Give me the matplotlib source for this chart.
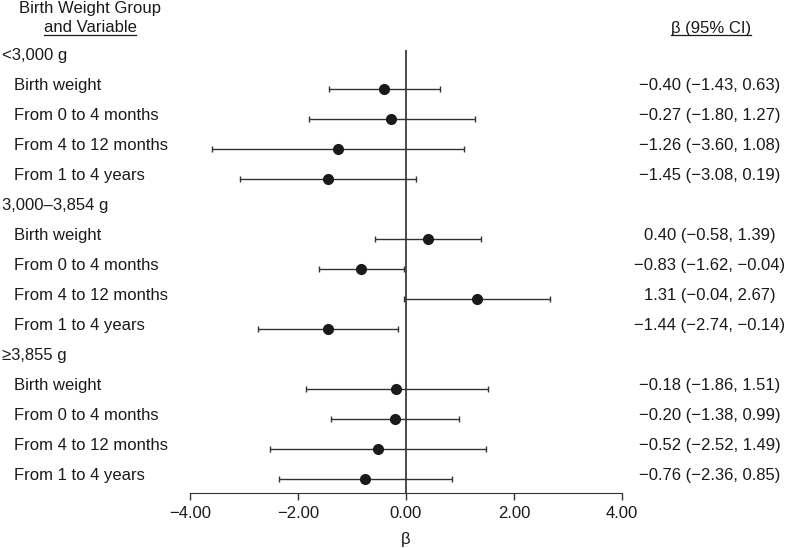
import numpy as np
import matplotlib.pyplot as plt
from matplotlib.transforms import blended_transform_factory
from matplotlib.lines import Line2D

plt.rcParams['font.family'] = ['Liberation Sans', 'DejaVu Sans']
plt.rcParams['axes.unicode_minus'] = True

# DATA
groups = ["<3,000 g", "3,000\u20133,854 g", "\u22653,855 g"]
variables = ["Birth weight", "From 0 to 4 months", "From 4 to 12 months", "From 1 to 4 years"]
beta = [[-0.40, -0.27, -1.26, -1.45],
        [0.40, -0.83, 1.31, -1.44],
        [-0.18, -0.20, -0.52, -0.76]]
ci_low = [[-1.43, -1.80, -3.60, -3.08],
          [-0.58, -1.62, -0.04, -2.74],
          [-1.86, -1.38, -2.52, -2.36]]
ci_high = [[0.63, 1.27, 1.08, 0.19],
           [1.39, -0.04, 2.67, -0.14],
           [1.51, 0.99, 1.49, 0.85]]
x_ticks = [-4, -2, 0, 2, 4]

# FIGURE
fig = plt.figure(figsize=(7.87, 5.48), dpi=100)
ax = fig.add_axes([190 / 787, 1 - 493 / 548, 432 / 787, 443 / 548])
W, H = 787, 548

fs = 12
ink = '#1a1a1a'

b = np.array(beta)
lo = np.array(ci_low)
hi = np.array(ci_high)

# ROWS: group header at 5*g, its four variables below it
rows = []
for g in range(len(groups)):
    for j in range(len(variables)):
        rows.append(g * 5 + 1 + j)
rows = np.array(rows)
bf = b.flatten()
ax.errorbar(bf, rows, xerr=[bf - lo.flatten(), hi.flatten() - bf], fmt='o',
            color=ink, ecolor='#333333', elinewidth=1.0, capsize=2.5,
            capthick=1.0, markersize=7, zorder=3)
ax.axvline(0, color=ink, lw=1.1, zorder=2)

ax.set_xlim(-4, 4)
ax.set_ylim(14.467, -0.3)
ax.set_xticks(x_ticks)
ax.set_xticklabels([f"{t:.2f}".replace('-', '\u2212') for t in x_ticks], fontsize=fs)
ax.tick_params(axis='x', direction='out', length=5, width=1, color='#333333',
               pad=4, labelcolor=ink)
ax.set_yticks([])
for s in ['left', 'right', 'top']:
    ax.spines[s].set_visible(False)
ax.spines['bottom'].set_color('#333333')
ax.set_xlabel('\u03b2', fontsize=fs, labelpad=8, color=ink)


# TEXT COLUMNS
tr = blended_transform_factory(fig.transFigure, ax.transData)
off = -0.12
for g in range(len(groups)):
    ax.text(2 / W, g * 5 + off, groups[g], transform=tr, fontsize=fs,
            ha='left', va='center', clip_on=False, color=ink)
    for j in range(len(variables)):
        r = g * 5 + 1 + j
        ax.text(14 / W, r + off, variables[j], transform=tr, fontsize=fs,
                ha='left', va='center', clip_on=False, color=ink)
        s = f"{b[g, j]:.2f} ({lo[g, j]:.2f}, {hi[g, j]:.2f})".replace('-', '\u2212')
        ax.text(710 / W, r + off, s, transform=tr, fontsize=fs,
                ha='center', va='center', clip_on=False, color=ink)

# HEADERS
fig.text(90 / W, 1 - 9 / H, "Birth Weight Group", fontsize=fs, ha='center', va='center', color=ink)
h1 = fig.text(90 / W, 1 - 28 / H, "and Variable", fontsize=fs, ha='center', va='center', color=ink)
h2 = fig.text(711 / W, 1 - 28 / H, "\u03b2 (95% CI)", fontsize=fs, ha='center', va='center', color=ink)

# underline the two header lines
fig.canvas.draw()
renderer = fig.canvas.get_renderer()
for t in [h1, h2]:
    bb = t.get_window_extent(renderer)
    yline = 1 - 35 / H
    fig.add_artist(Line2D([bb.x0 / W, bb.x1 / W], [yline, yline], color=ink, lw=0.9,
                          transform=fig.transFigure))

plt.savefig('out.png', dpi=100)
